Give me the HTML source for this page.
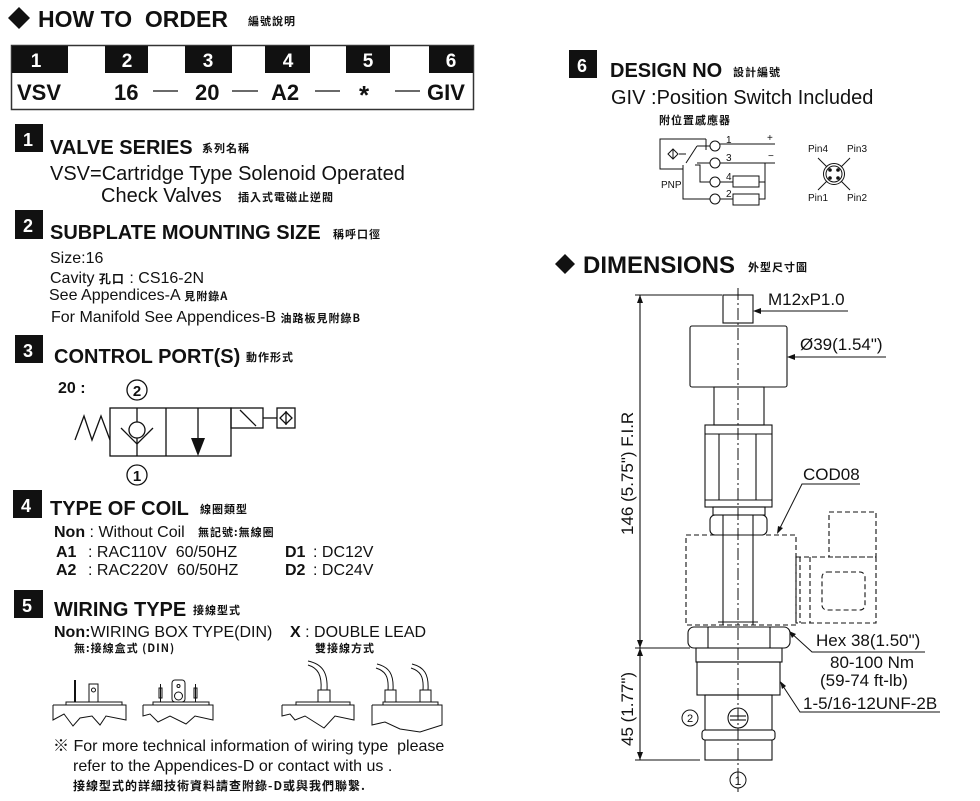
<!DOCTYPE html>
<html><head><meta charset="utf-8"><style>
html,body{margin:0;padding:0;background:#fff;}
svg{display:block;}
text{font-family:"Liberation Sans","Noto Sans CJK TC",sans-serif;fill:#111;white-space:pre;}
.b{font-weight:bold;}
.cj{font-family:"Noto Sans CJK TC","WenQuanYi Zen Hei",sans-serif;font-weight:bold;letter-spacing:1px;}
.w{fill:#fff;font-weight:bold;}
</style></head><body>
<svg width="980" height="801" viewBox="0 0 980 801" xmlns="http://www.w3.org/2000/svg" xml:space="preserve">
<polygon points="8,18 19,7 30,18 19,29" fill="#111"/>
<text x="38" y="27" class="b" font-size="23">HOW TO  ORDER</text>
<text x="248" y="25" class="cj" font-size="11">編號說明</text>

<rect x="11.5" y="45.5" width="462" height="64" fill="none" stroke="#333" stroke-width="1.5"/>
<g fill="#111">
<rect x="12" y="46" width="56" height="27"/><rect x="105" y="46" width="43" height="27"/><rect x="185" y="46" width="47" height="27"/><rect x="265" y="46" width="45" height="27"/><rect x="346" y="46" width="44" height="27"/><rect x="429" y="46" width="44" height="27"/>
</g>
<g font-size="19" text-anchor="middle">
<text x="36" y="67" class="w">1</text><text x="127" y="67" class="w">2</text><text x="208" y="67" class="w">3</text><text x="288" y="67" class="w">4</text><text x="368" y="67" class="w">5</text><text x="451" y="67" class="w">6</text>
</g>
<g font-size="22">
<text x="17" y="100" class="b">VSV</text><text x="114" y="100" class="b">16</text><text x="195" y="100" class="b">20</text><text x="271" y="100" class="b">A2</text><text x="427" y="100" class="b">GIV</text>
<text x="359" y="104" class="b" font-size="26">*</text>
</g>
<g stroke="#111" stroke-width="1.3"><line x1="153" y1="91" x2="178" y2="91"/><line x1="232" y1="91" x2="258" y2="91"/><line x1="315" y1="91" x2="340" y2="91"/><line x1="395" y1="91" x2="420" y2="91"/></g>

<!-- section 1 -->
<rect x="15" y="124" width="28" height="28" fill="#111"/><text x="23" y="146" class="w" font-size="18">1</text>
<text x="50" y="154" class="b" font-size="20">VALVE SERIES</text><text x="202" y="152" class="cj" font-size="11">系列名稱</text>
<text x="50" y="180" font-size="20">VSV=Cartridge Type Solenoid Operated</text>
<text x="101" y="202" font-size="20">Check Valves</text><text x="238" y="201" class="cj" font-size="11">插入式電磁止逆閥</text>

<!-- section 2 -->
<rect x="15" y="210" width="28" height="29" fill="#111"/><text x="23" y="232" class="w" font-size="18">2</text>
<text x="50" y="239" class="b" font-size="20">SUBPLATE MOUNTING SIZE</text><text x="333" y="238" class="cj" font-size="11">稱呼口徑</text>
<text x="50" y="263" font-size="16">Size:16</text>
<text x="50" y="283" font-size="16">Cavity <tspan class="cj" font-size="12">孔口</tspan> : CS16-2N</text>
<text x="49" y="300" font-size="16">See Appendices-A <tspan class="cj" font-size="11">見附錄A</tspan></text>
<text x="51" y="322" font-size="16">For Manifold See Appendices-B <tspan class="cj" font-size="11">油路板見附錄B</tspan></text>

<!-- section 3 -->
<rect x="15" y="335" width="28" height="28" fill="#111"/><text x="23" y="357" class="w" font-size="18">3</text>
<text x="54" y="363" class="b" font-size="20">CONTROL PORT(S)</text><text x="246" y="361" class="cj" font-size="11">動作形式</text>
<text x="58" y="393" class="b" font-size="16">20 :</text>
<g fill="none" stroke="#111" stroke-width="1.3">
<circle cx="137" cy="390" r="10"/><circle cx="137" cy="475" r="10"/>
<rect x="110" y="408" width="121" height="48"/><line x1="166" y1="408" x2="166" y2="456"/>
<rect x="231" y="408" width="32" height="20"/><line x1="240" y1="410" x2="256" y2="426"/>
<line x1="263" y1="418" x2="277" y2="418"/><rect x="277" y="408" width="18" height="20"/>
<polygon points="286,412 292,418 286,424 280,418"/><line x1="286" y1="411" x2="286" y2="425"/>
<polyline points="75,440 84,416 92,440 101,416 110,440"/>
<line x1="137" y1="408" x2="137" y2="456"/><circle cx="137" cy="430" r="8" fill="#fff"/>
<polyline points="121,428 137,444 153,428"/>
<line x1="198" y1="408" x2="198" y2="440"/>
</g>
<polygon points="191,438 205,438 198,456" fill="#111"/>
<text x="137" y="396" font-size="15" class="b" text-anchor="middle">2</text><text x="137" y="481" font-size="15" class="b" text-anchor="middle">1</text>

<!-- section 4 -->
<rect x="13" y="490" width="29" height="28" fill="#111"/><text x="21" y="512" class="w" font-size="18">4</text>
<text x="50" y="515" class="b" font-size="20">TYPE OF COIL</text><text x="200" y="513" class="cj" font-size="11">線圈類型</text>
<text x="54" y="537" font-size="16"><tspan class="b">Non</tspan> : Without Coil</text><text x="198" y="536" class="cj" font-size="11">無記號:無線圈</text>
<text x="56" y="557" font-size="16" class="b">A1</text><text x="88" y="557" font-size="16">: RAC110V  60/50HZ</text>
<text x="285" y="557" font-size="16" class="b">D1</text><text x="313" y="557" font-size="16">: DC12V</text>
<text x="56" y="575" font-size="16" class="b">A2</text><text x="88" y="575" font-size="16">: RAC220V  60/50HZ</text>
<text x="285" y="575" font-size="16" class="b">D2</text><text x="313" y="575" font-size="16">: DC24V</text>

<!-- section 5 -->
<rect x="14" y="590" width="29" height="28" fill="#111"/><text x="22" y="612" class="w" font-size="18">5</text>
<text x="54" y="616" class="b" font-size="20">WIRING TYPE</text><text x="193" y="614" class="cj" font-size="11">接線型式</text>
<text x="54" y="637" font-size="16"><tspan class="b">Non:</tspan>WIRING BOX TYPE(DIN)</text>
<text x="290" y="637" font-size="16"><tspan class="b">X</tspan> : DOUBLE LEAD</text>
<text x="74" y="652" class="cj" font-size="11">無:接線盒式 (DIN)</text><text x="315" y="652" class="cj" font-size="11">雙接線方式</text>
<g fill="none" stroke="#111" stroke-width="1">
<polyline points="53,705 126,705 126,720 106,716 100,725 92,716 80,718 73,726 64,714 53,720 53,705"/>
<rect x="66" y="702" width="56" height="3"/><line x1="75" y1="680" x2="75" y2="702" stroke-width="2"/>
<rect x="89" y="684" width="9" height="18"/><circle cx="93.5" cy="690" r="2"/>
<polyline points="143,705 213,705 213,720 195,716 186,724 170,716 158,722 150,714 143,716 143,705"/>
<rect x="153" y="702" width="56" height="3"/><rect x="172" y="680" width="13" height="22" rx="3"/><circle cx="178.5" cy="696" r="4"/><circle cx="178.5" cy="686" r="1.5"/>
<rect x="159" y="688" width="3" height="10"/><rect x="194" y="688" width="3" height="10"/>
<line x1="160.5" y1="684" x2="160.5" y2="702"/><line x1="195.5" y1="684" x2="195.5" y2="702"/>
<polyline points="282,705 354,705 354,720 335,716 324,728 305,716 295,720 290,714 282,716 282,705"/>
<rect x="296" y="702" width="54" height="3"/><rect x="318" y="690" width="12" height="12"/>
<path d="M321,690 C322,675 318,668 308,665 M327,690 C328,672 322,664 308,661"/>
<polyline points="372,705 442,705 442,725 420,732 400,729 385,722 372,725 372,705"/>
<rect x="383" y="702" width="55" height="3"/><rect x="385" y="690" width="11" height="12"/><rect x="420" y="690" width="11" height="12"/>
<path d="M388,690 C389,676 385,671 376,668 M393,690 C394,674 389,667 377,664 M423,690 C424,676 420,671 411,668 M428,690 C429,674 424,667 412,664"/>
</g>
<text x="53" y="751" font-size="16">※ For more technical information of wiring type  please</text>
<text x="73" y="771" font-size="16">refer to the Appendices-D or contact with us .</text>
<text x="73" y="790" class="cj" font-size="12">接線型式的詳細技術資料請查附錄-D或與我們聯繫.</text>

<!-- section 6 -->
<rect x="569" y="50" width="28" height="28" fill="#111"/><text x="577" y="72" class="w" font-size="18">6</text>
<text x="610" y="77" class="b" font-size="20">DESIGN NO</text><text x="733" y="76" class="cj" font-size="11">設計編號</text>
<text x="611" y="104" font-size="20">GIV :Position Switch Included</text>
<text x="659" y="124" class="cj" font-size="11">附位置感應器</text>
<g fill="none" stroke="#111" stroke-width="1">
<polyline points="706,139 660,139 660,169 683,169"/><line x1="706" y1="139" x2="706" y2="150"/>
<polygon points="668,154 673,149 678,154 673,159"/><line x1="673" y1="149" x2="673" y2="159"/>
<line x1="679" y1="154" x2="686" y2="154"/>
<line x1="686" y1="163" x2="697" y2="146"/><line x1="697" y1="146" x2="710" y2="146"/>
<polyline points="683,165 683,199 710,199"/><polyline points="695,165 700,165 700,182 710,182"/>
<line x1="697" y1="163" x2="710" y2="163"/>
<circle cx="715" cy="146" r="5"/><circle cx="715" cy="163" r="5"/><circle cx="715" cy="182" r="5"/><circle cx="715" cy="199" r="5"/>
<line x1="720" y1="144" x2="775" y2="144"/><line x1="720" y1="163" x2="775" y2="163"/>
<line x1="720" y1="182" x2="733" y2="182"/><rect x="733" y="176" width="26" height="11"/>
<line x1="720" y1="199" x2="733" y2="199"/><rect x="733" y="194" width="26" height="11"/>
<polyline points="759,182 765,182"/><polyline points="759,199 765,199 765,163"/>
<circle cx="834" cy="174" r="10.5"/><circle cx="834" cy="174" r="8"/>
<line x1="818" y1="158" x2="827" y2="167"/><line x1="850" y1="158" x2="841" y2="167"/><line x1="818" y1="190" x2="827" y2="181"/><line x1="850" y1="190" x2="841" y2="181"/>
</g>
<g fill="#111"><circle cx="830" cy="170" r="1.8"/><circle cx="838" cy="170" r="1.8"/><circle cx="830" cy="178" r="1.8"/><circle cx="838" cy="178" r="1.8"/></g>
<g font-size="10"><text x="726" y="143">1</text><text x="726" y="161">3</text><text x="726" y="180">4</text><text x="726" y="197">2</text><text x="767" y="141">+</text><text x="768" y="159">−</text>
<text x="661" y="188">PNP</text><text x="808" y="152">Pin4</text><text x="847" y="152">Pin3</text><text x="808" y="201">Pin1</text><text x="847" y="201">Pin2</text></g>

<!-- dimensions -->
<polygon points="555,264 565,254 575,264 565,274" fill="#111"/>
<text x="583" y="273" class="b" font-size="24">DIMENSIONS</text><text x="748" y="271" class="cj" font-size="11">外型尺寸圖</text>
<g fill="none" stroke="#111" stroke-width="1.1">
<line x1="640" y1="295" x2="640" y2="760"/><line x1="635" y1="295" x2="722" y2="295"/><line x1="635" y1="648" x2="690" y2="648"/><line x1="635" y1="760" x2="700" y2="760"/>
<rect x="723" y="295" width="30" height="28"/>
<rect x="690" y="326" width="97" height="61" rx="2"/>
<rect x="714" y="387" width="50" height="38"/>
<rect x="705" y="425" width="67" height="82"/><line x1="705" y1="434" x2="772" y2="434"/><line x1="719" y1="434" x2="719" y2="500"/><line x1="756" y1="434" x2="756" y2="500"/><line x1="705" y1="500" x2="772" y2="500"/>
<rect x="713" y="507" width="52" height="8"/>
<rect x="710" y="515" width="57" height="20" rx="5"/><line x1="723" y1="515" x2="723" y2="535"/><line x1="753" y1="515" x2="753" y2="535"/>
<line x1="723" y1="535" x2="723" y2="625"/><line x1="753" y1="535" x2="753" y2="625"/>
<rect x="688" y="627" width="102" height="21" rx="6"/><line x1="708" y1="627" x2="708" y2="648"/><line x1="770" y1="627" x2="770" y2="648"/><line x1="718" y1="622" x2="758" y2="622"/>
<rect x="696" y="648" width="86" height="14"/>
<rect x="697" y="662" width="83" height="33"/>
<rect x="705" y="695" width="67" height="35"/>
<rect x="702" y="730" width="73" height="10" rx="3"/><rect x="705" y="740" width="67" height="20"/>
<circle cx="738" cy="718" r="10"/><line x1="730" y1="716" x2="746" y2="716"/><line x1="730" y1="720" x2="746" y2="720"/>
</g>
<g fill="none" stroke="#111" stroke-width="1.1" stroke-dasharray="5,3">
<rect x="686" y="535" width="110" height="90"/>
<rect x="796" y="557" width="80" height="66"/><rect x="829" y="512" width="47" height="45"/>
<rect x="822" y="572" width="43" height="38" rx="5"/>
<line x1="800" y1="557" x2="800" y2="623"/><line x1="810" y1="557" x2="810" y2="623"/>
</g>
<line x1="738" y1="288" x2="738" y2="792" stroke="#111" stroke-width="1" stroke-dasharray="12,3,2,3"/>
<g fill="none" stroke="#111" stroke-width="1">
<polyline points="848,311 755,311"/><polyline points="886,357 789,357"/>
<polyline points="860,484 802,484 778,532"/>
<polyline points="925,652 812,652 790,632"/>
<polyline points="940,712 800,712 781,683"/>
</g>
<g fill="#111"><polygon points="753,311 761,308 761,314"/><polygon points="787,357 795,354 795,360"/><polygon points="640,295 637,303 643,303"/><polygon points="640,648 637,640 643,640"/><polygon points="640,648 637,656 643,656"/><polygon points="640,760 637,752 643,752"/><polygon points="777,534 778,526 783,528"/><polygon points="789,631 796,634 792,638"/><polygon points="780,681 786,686 782,689"/></g>
<g font-size="17">
<text x="768" y="305">M12xP1.0</text><text x="800" y="350">Ø39(1.54")</text><text x="803" y="480">COD08</text>
<text x="816" y="646">Hex 38(1.50")</text><text x="830" y="668">80-100 Nm</text><text x="820" y="686">(59-74 ft-lb)</text><text x="803" y="709">1-5/16-12UNF-2B</text>
<text transform="translate(633,535) rotate(-90)">146 (5.75") F.I.R</text>
<text transform="translate(633,746) rotate(-90)">45 (1.77")</text>
</g>
<g fill="none" stroke="#111" stroke-width="1"><circle cx="690" cy="718" r="8"/><circle cx="738" cy="780" r="8"/></g>
<text x="690" y="722" font-size="11" text-anchor="middle">2</text><text x="738" y="785" font-size="12" text-anchor="middle">1</text>
</svg>
</body></html>
